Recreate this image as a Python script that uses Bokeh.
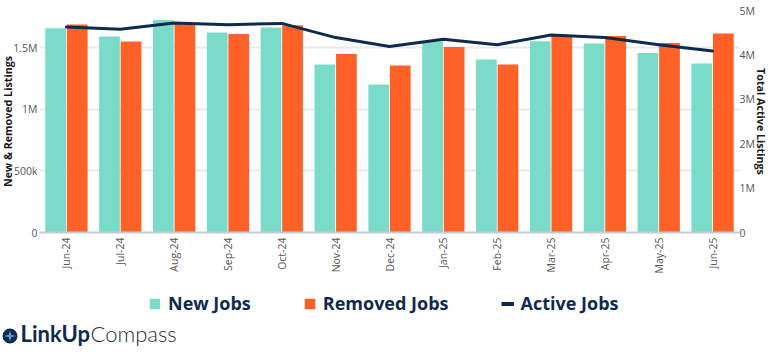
from bokeh.plotting import figure
from bokeh.models import (ColumnDataSource, FactorRange, Range1d, LinearAxis, FixedTicker, Legend, LegendItem)
from bokeh.core.properties import value
from bokeh.transform import dodge
from bokeh.embed import file_html
from bokeh.resources import INLINE

months = ["Jun-24","Jul-24","Aug-24","Sep-24","Oct-24","Nov-24","Dec-24","Jan-25","Feb-25","Mar-25","Apr-25","May-25","Jun-25"]
new_jobs = [1657000,1590000,1723000,1622000,1663000,1362000,1200000,1550000,1403000,1550000,1533000,1456000,1370000]
removed_jobs = [1687000,1549000,1695000,1610000,1680000,1447000,1354000,1504000,1362000,1598000,1594000,1537000,1614000]
active_jobs = [4630000,4580000,4720000,4680000,4710000,4390000,4190000,4350000,4230000,4450000,4390000,4230000,4090000]
left_ticks = [0,500000,1000000,1500000]
left_labels = ["0","500k","1M","1.5M"]
right_ticks = [0,1000000,2000000,3000000,4000000,5000000]
right_labels = ["0","1M","2M","3M","4M","5M"]

NAVY="#0f2a4d"; TEAL="#7adcc8"; ORANGE="#ff6126"; FONT="Open Sans"

src = ColumnDataSource(dict(m=months,new=new_jobs,rem=removed_jobs,act=active_jobs))
p = figure(width=776,height=285,output_backend="svg",toolbar_location=None,
           x_range=FactorRange(*months,range_padding=0,factor_padding=0),
           y_range=Range1d(0,1800000),
           min_border_left=47,min_border_right=29,min_border_top=10,min_border_bottom=53,
           frame_width=700,frame_height=222,
           styles={"position":"absolute","left":"-8px","top":"0px"})
p.extra_y_ranges={"right":Range1d(0,5000000)}
p.outline_line_color=None
p.background_fill_color="white"
p.border_fill_color="white"
p.xgrid.visible=False
p.ygrid.grid_line_color="#e9e9e9"
p.ygrid.grid_line_width=2
p.ygrid.ticker=FixedTicker(ticks=left_ticks)

p.vbar(x=dodge("m",-0.2,range=p.x_range),top="new",width=0.385,source=src,fill_color=TEAL,line_color=None)
p.vbar(x=dodge("m",0.2,range=p.x_range),top="rem",width=0.385,source=src,fill_color=ORANGE,line_color=None)
p.line(x="m",y="act",source=src,y_range_name="right",line_color=NAVY,line_width=3,line_join="round",line_cap="round")

ax=p.xaxis[0]
ax.major_label_orientation=1.5708
ax.major_tick_line_color=None
ax.major_tick_out=0
ax.major_tick_in=0
ax.axis_line_color="#c4ccd4"
ax.axis_line_width=2
ax.major_label_text_font=FONT
ax.major_label_text_font_size="10.5px"
ax.major_label_text_color="#555555"
ax.major_label_standoff=5

ay=p.yaxis[0]
ay.ticker=FixedTicker(ticks=left_ticks)
ay.major_label_overrides=dict(zip(left_ticks,left_labels))
ay.axis_line_color=None
ay.major_tick_line_color=None
ay.minor_tick_line_color=None
ay.major_tick_out=0
ay.major_tick_in=0
ay.major_label_text_font=FONT
ay.major_label_text_font_size="10.5px"
ay.major_label_text_color="#555555"
ay.major_label_standoff=2
ay.axis_label="New & Removed Listings"
ay.axis_label_text_font=FONT
ay.axis_label_text_font_size="10.7px"
ay.axis_label_text_font_style="bold"
ay.axis_label_text_color="#1a1a1a"
ay.axis_label_standoff=-5

ar=LinearAxis(y_range_name="right",ticker=FixedTicker(ticks=right_ticks),
              major_label_overrides=dict(zip(right_ticks,right_labels)),
              axis_line_color=None,major_tick_line_color=None,minor_tick_line_color=None,
              major_tick_out=0,major_tick_in=0,
              major_label_text_font=FONT,major_label_text_font_size="10.5px",major_label_text_color="#555555",
              major_label_standoff=0,axis_label="Total Active Listings",axis_label_text_font=FONT,
              axis_label_text_font_size="10.7px",axis_label_text_font_style="bold",axis_label_text_color="#1a1a1a",
              axis_label_standoff=-4)
p.add_layout(ar,"right")

# lower strip: legend and logo, in page pixel coordinates
q = figure(width=768,height=72,output_backend="svg",toolbar_location=None,
           x_range=Range1d(0,768),y_range=Range1d(357,285),
           min_border_left=0,min_border_right=0,min_border_top=0,min_border_bottom=0,
           x_axis_location=None,y_axis_location=None,
           styles={"position":"absolute","left":"0px","top":"285px"})
q.outline_line_color=None
q.grid.visible=False
e=ColumnDataSource(dict(x=[-50,-40],x2=[-45,-35],y=[320,320],y2=[330,330]))
g1=q.quad(left="x",right="x2",top="y",bottom="y2",source=e,fill_color=TEAL,line_color=None)
g2=q.quad(left="x",right="x2",top="y",bottom="y2",source=e,fill_color=ORANGE,line_color=None)
g3=q.line(x="x",y="y",source=e,line_color=NAVY,line_width=4)
legend=Legend(items=[LegendItem(label="New Jobs",renderers=[g1]),LegendItem(label="Removed Jobs",renderers=[g2]),
                     LegendItem(label="Active Jobs",renderers=[g3])],
              orientation="horizontal",location=(148,42),background_fill_alpha=0,border_line_color=None,
              glyph_width=13,glyph_height=13,label_standoff=7,spacing=52,padding=10,margin=0,
              label_text_font=FONT,label_text_font_size="18px",label_text_font_style="bold",label_text_color=NAVY)
q.add_layout(legend,"center")

q.scatter(x=[9.5],y=[335.5],size=15,marker="circle",fill_color=NAVY,line_color=None)
q.patch(x=[9.5,10.7,15.5,10.7,9.5,8.3,3.5,8.3],y=[330,334.3,335.5,336.7,341,336.7,335.5,334.3],fill_color="#4f9fd8",line_color=None)
q.text(x=[20],y=[333],text=["LinkUp"],text_font=value("Lato"),text_font_size="22px",text_font_style="bold",text_color=NAVY,text_baseline="alphabetic")
q.text(x=[90],y=[333],text=["Compass"],text_font=value("'Lato Light', Lato"),text_font_size="22px",text_color="#2a2f38",text_baseline="alphabetic")

open("out.html","w").write(file_html([p,q],INLINE))
